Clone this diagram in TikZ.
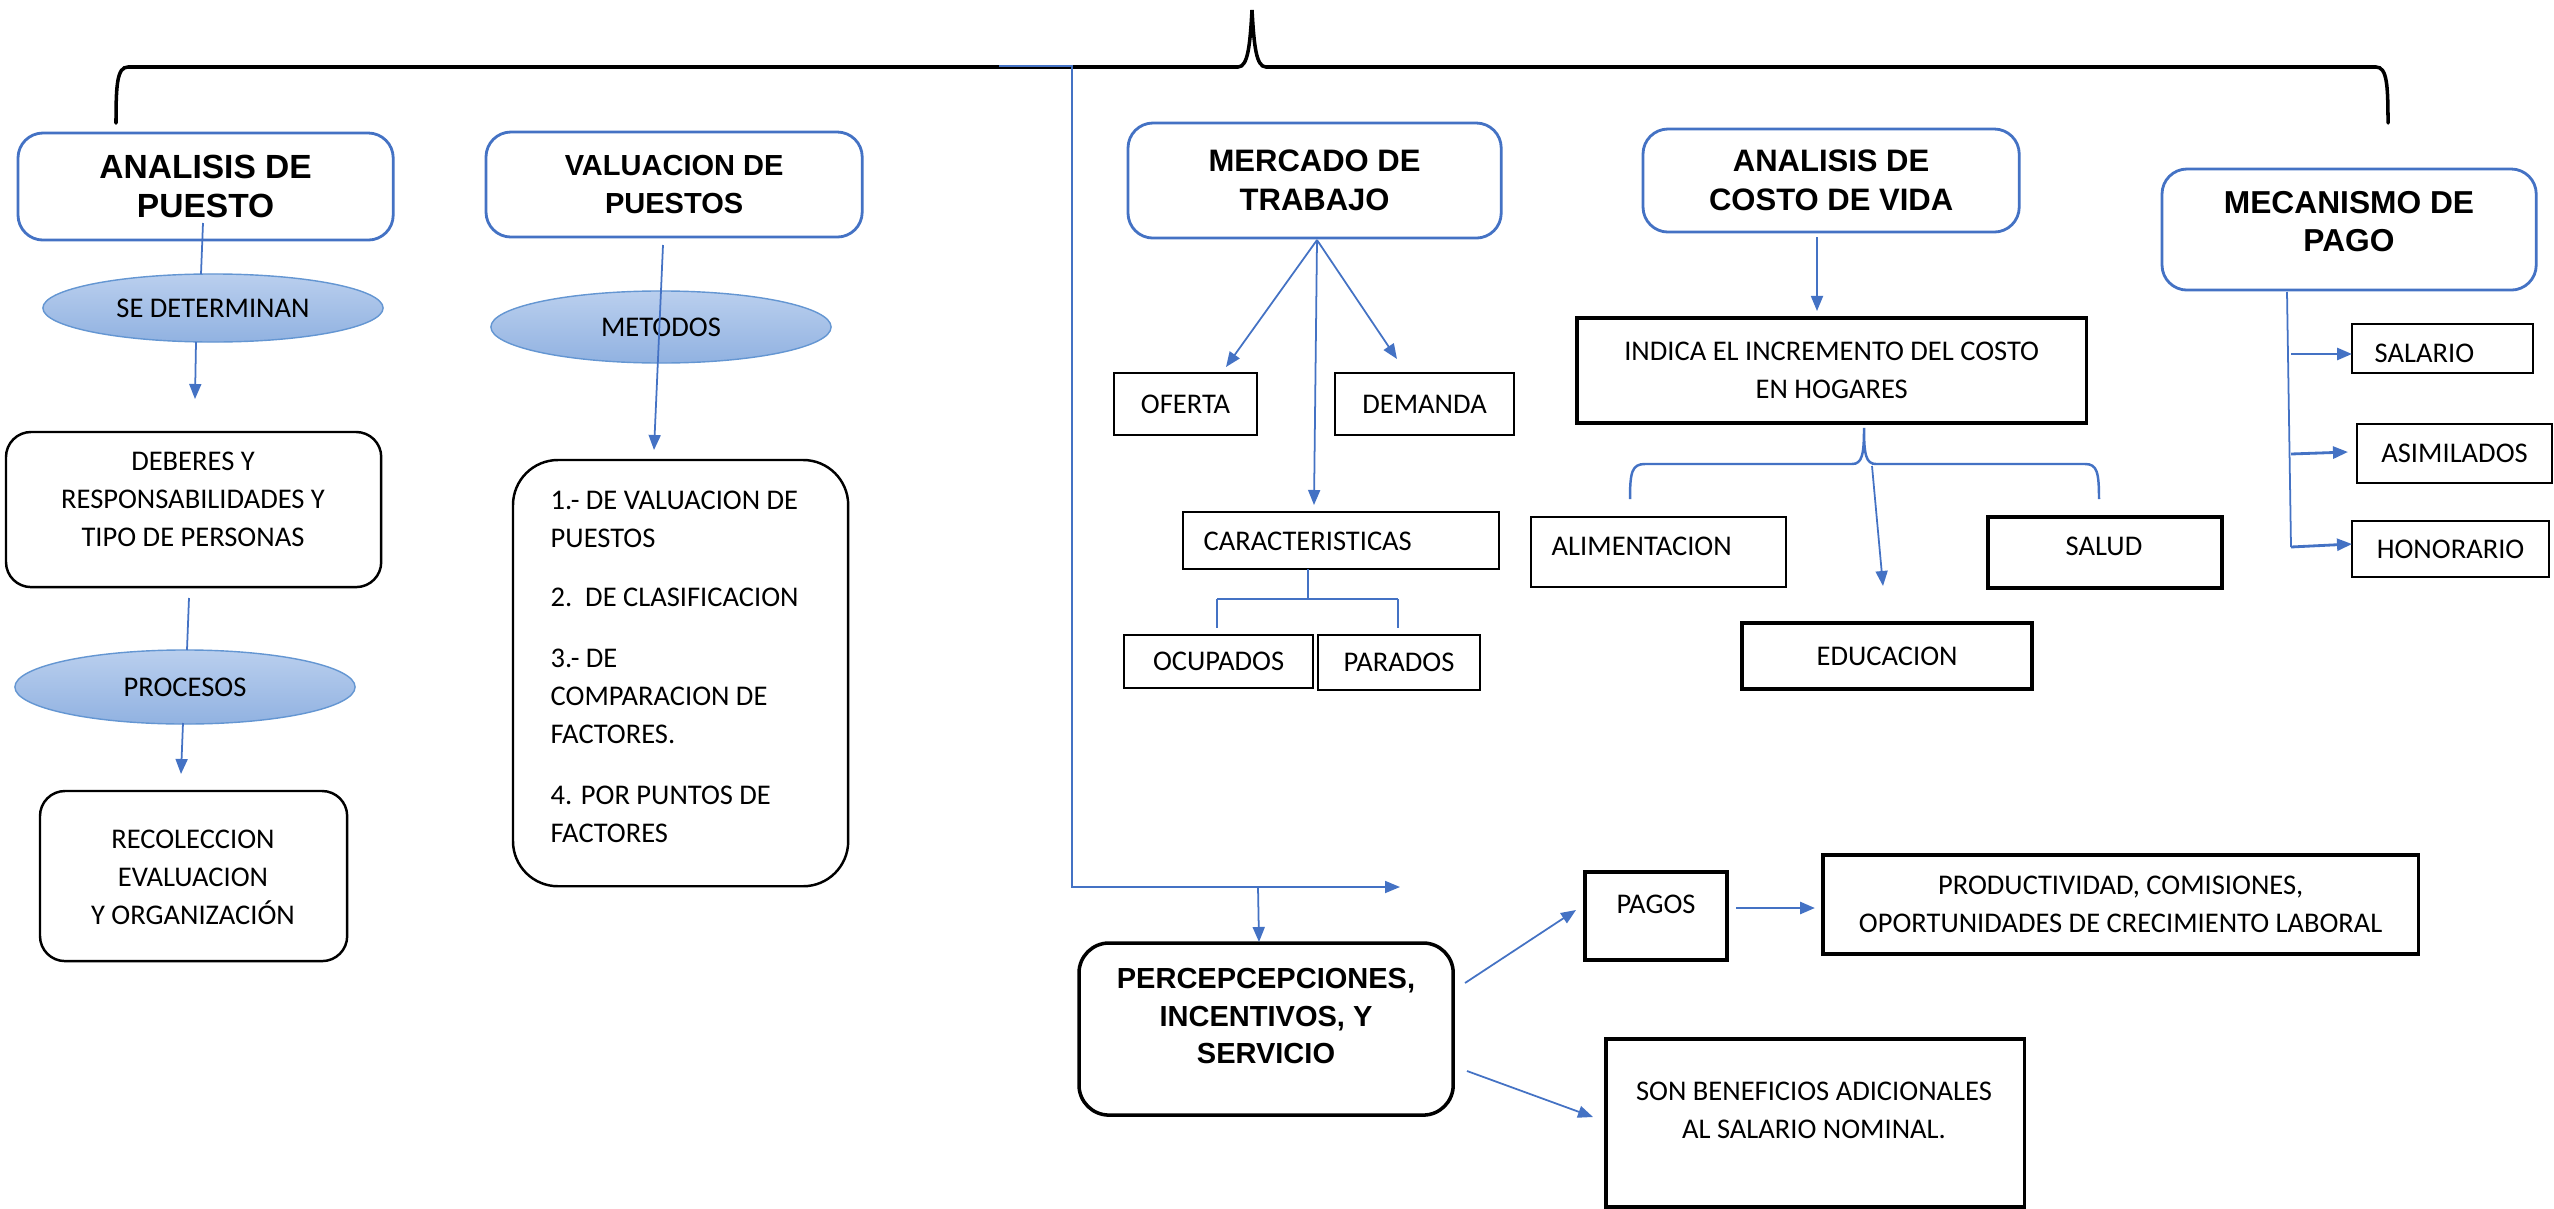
\documentclass[tikz,border=0pt]{standalone}
\usepackage{fontspec}
\setmainfont{Carlito}
\newfontfamily\arialf{Liberation Sans}
\usetikzlibrary{arrows.meta,shapes.geometric}
\definecolor{bl}{RGB}{68,114,196}
\definecolor{elb}{RGB}{100,150,210}
\definecolor{eltop}{RGB}{186,207,238}
\definecolor{elbot}{RGB}{145,178,225}
\newcommand\txtf{\fontsize{0.285cm}{0.38cm}\selectfont}
\newcommand\ttlf[1]{\arialf\bfseries\fontsize{#1}{0.385cm}\selectfont}
\tikzset{
 bx/.style={draw=black, line width=0.5pt, inner sep=0pt, outer sep=0pt, anchor=north west},
 bxt/.style={bx, line width=1pt},
 rbx/.style={bx, rounded corners=0.25cm, line width=0.7pt},
 ttl/.style={draw=bl, line width=0.8pt, rounded corners=0.25cm, inner sep=0pt, outer sep=0pt, anchor=north west, align=center},
 ttxt/.style={inner sep=0pt, align=center},
 el/.style={ellipse, draw=elb, line width=0.4pt, top color=eltop, bottom color=elbot, inner sep=0pt, font=\txtf},
 txt/.style={font=\txtf, inner sep=0pt, align=center},
 con/.style={draw=bl, line width=0.5pt},
 arr/.style={con, -{Triangle[length=0.15cm,width=0.12cm]}},
}
\begin{document}
\begin{tikzpicture}[x=0.01cm,y=-0.01cm]
\useasboundingbox (0,0) rectangle (2554,1209);
\fill[white] (0,0) rectangle (2554,1209);

% top brace
\draw[line width=1pt,line cap=round] (116,123) .. controls (116,85) and (117,67) .. (128,67) -- (1238,67) .. controls (1248,67) and (1250,45) .. (1252,10) .. controls (1254,45) and (1256,67) .. (1266,67) -- (2376,67) .. controls (2387,67) and (2388,85) .. (2388,123);

% titles
\node[ttl,minimum width=3.75cm,minimum height=1.07cm,font=\ttlf{0.335cm}] (ap) at (18,133) {ANALISIS DE\\PUESTO};
\node[ttl,minimum width=3.76cm,minimum height=1.05cm,font=\ttlf{0.29cm}] (vp) at (486,132) {VALUACION DE\\PUESTOS};
\node[ttl,minimum width=3.73cm,minimum height=1.15cm,font=\ttlf{0.31cm}] (mt) at (1128,123) {MERCADO DE\\TRABAJO};
\node[ttl,minimum width=3.76cm,minimum height=1.03cm,font=\ttlf{0.31cm}] (cv) at (1643,129) {ANALISIS DE\\COSTO DE VIDA};
\node[ttl,minimum width=3.74cm,minimum height=1.21cm] (mp) at (2162,169) {};
\node[ttxt,font=\ttlf{0.317cm}] (mpt) at (2349,221.5) {MECANISMO DE\\PAGO};

% left column
\node[el,minimum width=3.4cm,minimum height=0.68cm] (sed) at (213,308) {SE DETERMINAN};
\node[rbx,minimum width=3.75cm,minimum height=1.55cm] (deb) at (6,432) {};
\node[txt] (debt) at (193,499.5) {DEBERES Y\\RESPONSABILIDADES Y\\TIPO DE PERSONAS};
\node[el,minimum width=3.4cm,minimum height=0.74cm] (pro) at (185,687) {PROCESOS};
\node[rbx,minimum width=3.07cm,minimum height=1.70cm] (rec) at (40,791) {};
\node[txt] (rect) at (193,877) {RECOLECCION\\EVALUACION\\Y ORGANIZACIÓN};

% valuacion column
\node[el,minimum width=3.4cm,minimum height=0.72cm] (met) at (661,327) {METODOS};
\node[rbx,rounded corners=0.45cm,minimum width=3.35cm,minimum height=4.26cm] (mb) at (513,460) {};
\node[txt,align=left,anchor=north west] (mbt) at (550,490) {1.- DE VALUACION DE\\PUESTOS\\[0.21cm]2.\ \ DE CLASIFICACION\\[0.23cm]3.- DE\\COMPARACION DE\\FACTORES.\\[0.23cm]4. POR PUNTOS DE\\FACTORES};

% mercado column
\node[bx,minimum width=1.43cm,minimum height=0.62cm,font=\txtf] (of) at (1114,373) {OFERTA};
\node[bx,minimum width=1.79cm,minimum height=0.62cm,font=\txtf] (de) at (1335,373) {DEMANDA};
\node[bx,minimum width=3.16cm,minimum height=0.57cm] (ca) at (1183,512) {};
\node[txt,anchor=base west] (cat) at (1203,550) {CARACTERISTICAS};
\node[bx,minimum width=1.89cm,minimum height=0.53cm,font=\txtf] (oc) at (1124,635) {OCUPADOS};
\node[bx,minimum width=1.62cm,minimum height=0.55cm,font=\txtf] (pa) at (1318,635) {PARADOS};

% costo de vida column
\node[bxt,minimum width=5.09cm,minimum height=1.05cm,font=\txtf,align=center] (in) at (1577,318) {INDICA EL INCREMENTO DEL COSTO\\EN HOGARES};
\node[bx,minimum width=2.55cm,minimum height=0.70cm] (al) at (1531,517) {};
\node[txt,anchor=base west] (alt) at (1551,555) {ALIMENTACION};
\node[bxt,minimum width=2.34cm,minimum height=0.71cm] (sa) at (1988,517) {};
\node[txt,anchor=base] (sat) at (2104,555) {SALUD};
\node[bxt,minimum width=2.90cm,minimum height=0.66cm,font=\txtf] (ed) at (1742,623) {EDUCACION};

% mecanismo column
\node[bx,minimum width=1.81cm,minimum height=0.49cm] (sl) at (2352,324) {};
\node[txt,anchor=base west] (slt) at (2374,362) {SALARIO};
\node[bx,minimum width=1.95cm,minimum height=0.59cm,font=\txtf] (as) at (2357,424) {ASIMILADOS};
\node[bx,minimum width=1.97cm,minimum height=0.56cm,font=\txtf] (ho) at (2352,521) {HONORARIO};

% bottom
\node[rbx,rounded corners=0.3cm,line width=1pt,minimum width=3.74cm,minimum height=1.72cm] (pe) at (1079,943) {};
\node[ttxt,font=\arialf\bfseries\fontsize{0.29cm}{0.37cm}\selectfont] (pet) at (1266,1016) {PERCEPCEPCIONES,\\INCENTIVOS, Y\\SERVICIO};
\node[bxt,minimum width=1.42cm,minimum height=0.88cm] (pg) at (1585,872) {};
\node[txt,anchor=base] (pgt) at (1656,913) {PAGOS};
\node[bxt,minimum width=5.95cm,minimum height=0.99cm,font=\txtf,align=center] (pr) at (1823,855) {PRODUCTIVIDAD, COMISIONES,\\OPORTUNIDADES DE CRECIMIENTO LABORAL};
\node[bxt,minimum width=4.18cm,minimum height=1.68cm] (sb) at (1606,1039) {};
\node[txt] (sbt) at (1814,1110.5) {SON BENEFICIOS ADICIONALES\\AL SALARIO NOMINAL.};

% connector end points
\coordinate (a1) at (203,223); \coordinate (a2) at (201,274);
\coordinate (a3) at (196,342); \coordinate (a4) at (195,399);
\coordinate (a5) at (189,598); \coordinate (a6) at (187,650);
\coordinate (a7) at (183,723); \coordinate (a8) at (181,774);
\coordinate (v1) at (663,245); \coordinate (v2) at (654,450);
\coordinate (m0) at (1317,240); \coordinate (m1) at (1226,367);
\coordinate (m2) at (1397,359); \coordinate (m3) at (1314,505);
\coordinate (k1) at (1308,569); \coordinate (k2) at (1308,599);
\coordinate (k3) at (1217,599); \coordinate (k4) at (1398,599);
\coordinate (k5) at (1217,628); \coordinate (k6) at (1398,628);
\coordinate (c0) at (1817,237); \coordinate (c1) at (1817,311);
\coordinate (e0) at (1872,466); \coordinate (e1) at (1883,586);
\coordinate (p0) at (2287,292); \coordinate (p1) at (2291,547);
\coordinate (p2) at (2291,354); \coordinate (p3) at (2352,354);
\coordinate (p4) at (2291,454); \coordinate (p5) at (2348,452);
\coordinate (p6) at (2352,544);
\coordinate (b0) at (999,66); \coordinate (b1) at (1072,66);
\coordinate (b2) at (1072,887); \coordinate (b3) at (1400,887);
\coordinate (b4) at (1258,887); \coordinate (b5) at (1259,942);
\coordinate (q0) at (1465,983); \coordinate (q1) at (1576,910);
\coordinate (q2) at (1467,1071); \coordinate (q3) at (1593,1117);
\coordinate (q4) at (1736,908); \coordinate (q5) at (1815,908);

% connectors
\draw[con] (a1) -- (a2);
\draw[arr] (a3) -- (a4);
\draw[con] (a5) -- (a6);
\draw[arr] (a7) -- (a8);
\draw[arr] (v1) -- (v2);
\draw[arr] (m0) -- (m1);
\draw[arr] (m0) -- (m2);
\draw[arr] (m0) -- (m3);
\draw[con] (k1) -- (k2);
\draw[con,line width=0.8pt] (k3) -- (k4);
\draw[con] (k3) -- (k5);
\draw[con] (k4) -- (k6);
\draw[arr] (c0) -- (c1);
\draw[con,line width=0.7pt] (1630,499) .. controls (1630,472) and (1632,464) .. (1645,464) -- (1852,464) .. controls (1862,464) and (1864,455) .. (1864,428) .. controls (1864,455) and (1866,464) .. (1876,464) -- (2085,464) .. controls (2097,464) and (2099,472) .. (2099,499);
\draw[arr] (e0) -- (e1);
\draw[con] (p0) -- (p1);
\draw[arr,line width=0.8pt] (p2) -- (p3);
\draw[arr,line width=0.8pt] (p4) -- (p5);
\draw[arr,line width=0.8pt] (p1) -- (p6);
\draw[arr] (b0) -- (b1) -- (b2) -- (b3);
\draw[arr] (b4) -- (b5);
\draw[arr] (q0) -- (q1);
\draw[arr] (q2) -- (q3);
\draw[arr,line width=0.8pt] (q4) -- (q5);
\end{tikzpicture}
\end{document}
